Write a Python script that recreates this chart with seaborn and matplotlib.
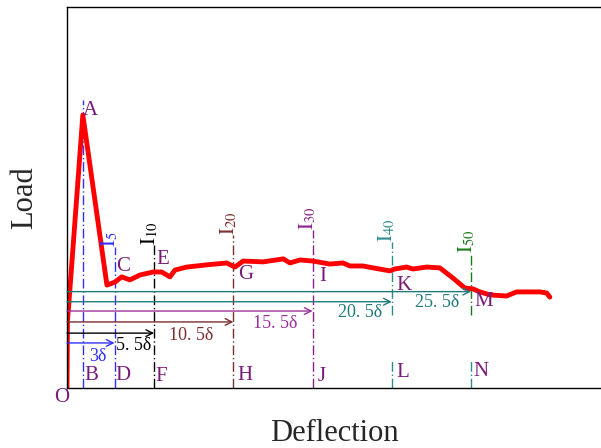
import numpy as np
import pandas as pd
import seaborn as sns
import matplotlib.pyplot as plt

# load-deflection curve (deflection in units of delta, load normalised to peak)
deflection = [0, 0.03, 0.09, 1.0, 2.52, 3.03, 3.45, 3.97, 4.61, 5.44, 5.97, 6.50, 6.81,
              7.55, 8.81, 10.08, 10.6, 11.12, 12.38, 13.65, 14.07, 14.7, 15.52, 16.59,
              17.41, 17.85, 18.68, 19.31, 20.38, 20.69, 21.43, 21.83, 22.69, 23.53,
              24.35, 25.11, 25.62, 26.06, 26.69, 27.74, 28.37, 29.84, 30.27, 30.47]
load = [0, 0.249, 0.289, 1.0, 0.377, 0.388, 0.407, 0.396, 0.414, 0.425, 0.425, 0.407,
        0.432, 0.443, 0.451, 0.458, 0.443, 0.465, 0.462, 0.473, 0.458, 0.469, 0.465,
        0.454, 0.458, 0.447, 0.447, 0.440, 0.429, 0.436, 0.443, 0.436, 0.443, 0.440,
        0.403, 0.366, 0.363, 0.352, 0.341, 0.337, 0.352, 0.352, 0.348, 0.333]

# toughness indices
index_names = ['5', '10', '20', '30', '40', '50']
index_x = [3.0, 5.5, 10.5, 15.5, 20.5, 25.5]
index_top = [0.516, 0.524, 0.56, 0.579, 0.535, 0.495]
index_colors = ['#3030ff', 'black', '#7b2e2e', '#8b1f8b', '#2e8b8b', '#1a7a1a']

# arrows from origin
arrow_labels = ['3δ', '5. 5δ', '10. 5δ', '15. 5δ', '20. 5δ', '25. 5δ']
arrow_y = [0.165, 0.201, 0.242, 0.282, 0.316, 0.353]
arrow_colors = ['#3030ff', 'black', '#7b2e2e', '#9b309b', '#1f7a7a', '#1f7a7a']
arrow_label_pos = [(1.93, 0.117), (4.23, 0.154), (7.86, 0.194), (13.12, 0.238),
                   (18.49, 0.275), (23.34, 0.315)]

# point letters
letters = ['O', 'A', 'B', 'C', 'D', 'E', 'F', 'G', 'H', 'I', 'J', 'K', 'L', 'M', 'N']
letter_x = [-0.32, 1.50, 1.53, 3.51, 3.51, 6.06, 5.93, 11.25, 11.25, 16.15, 16.09,
            21.29, 21.17, 26.29, 26.12]
letter_y = [-0.033, 1.016, 0.045, 0.444, 0.045, 0.469, 0.041, 0.414, 0.045, 0.408,
            0.041, 0.377, 0.056, 0.316, 0.062]

sns.set_style('white')
plt.rcParams['font.family'] = ['Liberation Serif', 'DejaVu Serif']
plt.rcParams['mathtext.fontset'] = 'stix'

fig = plt.figure(figsize=(6.01, 4.48), dpi=100)
ax = fig.add_axes([67 / 601, 1 - 388 / 448, 534 / 601, 381 / 448])

dash = (0, (7, 2, 1, 2))

# vertical line at the peak
ax.plot([1.0, 1.0], [0, 1.055], color='#3030ff', lw=1, ls=dash)

for name, x, top, c in zip(index_names, index_x, index_top, index_colors):
    if name in ('40', '50'):
        ax.plot([x, x], [0, 0.103], color='#2e8b8b', lw=1, ls=dash)
        ax.plot([x, x], [0.268, top], color=c, lw=1, ls=dash)
    else:
        ax.plot([x, x], [0, top], color=c, lw=1, ls=dash)
    ax.text(x + 0.05, top, r'$\mathrm{I}_{%s}$' % name, color=c, fontsize=15, rotation=90,
            rotation_mode='anchor', ha='left', va='baseline')

for lab, y, c, pos, x in zip(arrow_labels, arrow_y, arrow_colors, arrow_label_pos, index_x):
    ax.annotate('', xy=(x, y), xytext=(0, y),
                arrowprops=dict(arrowstyle='->', color=c, lw=1, shrinkA=0, shrinkB=0,
                                mutation_scale=12))
    ax.text(pos[0], pos[1], lab, color=c, fontsize=13, ha='center', va='center')

df = pd.DataFrame({'Deflection': deflection, 'Load': load})
sns.lineplot(data=df, x='Deflection', y='Load', color='red', lw=3.5, sort=False, ax=ax,
             solid_joinstyle='round', solid_capstyle='round')

for t, x, y in zip(letters, letter_x, letter_y):
    ax.text(x, y, t, color='#7a1a7a', fontsize=15, ha='center', va='center', clip_on=False)

ax.set_xlim(0, 33.7)
ax.set_ylim(0, 1.3956)
ax.set_xticks([])
ax.set_yticks([])
ax.spines['right'].set_visible(False)
for s in ['left', 'bottom', 'top']:
    ax.spines[s].set_color('black')
    ax.spines[s].set_linewidth(1)
ax.set_xlabel('Deflection', fontsize=22, labelpad=22)
ax.set_ylabel('Load', fontsize=22, labelpad=20)

fig.savefig('out.png', dpi=100)
